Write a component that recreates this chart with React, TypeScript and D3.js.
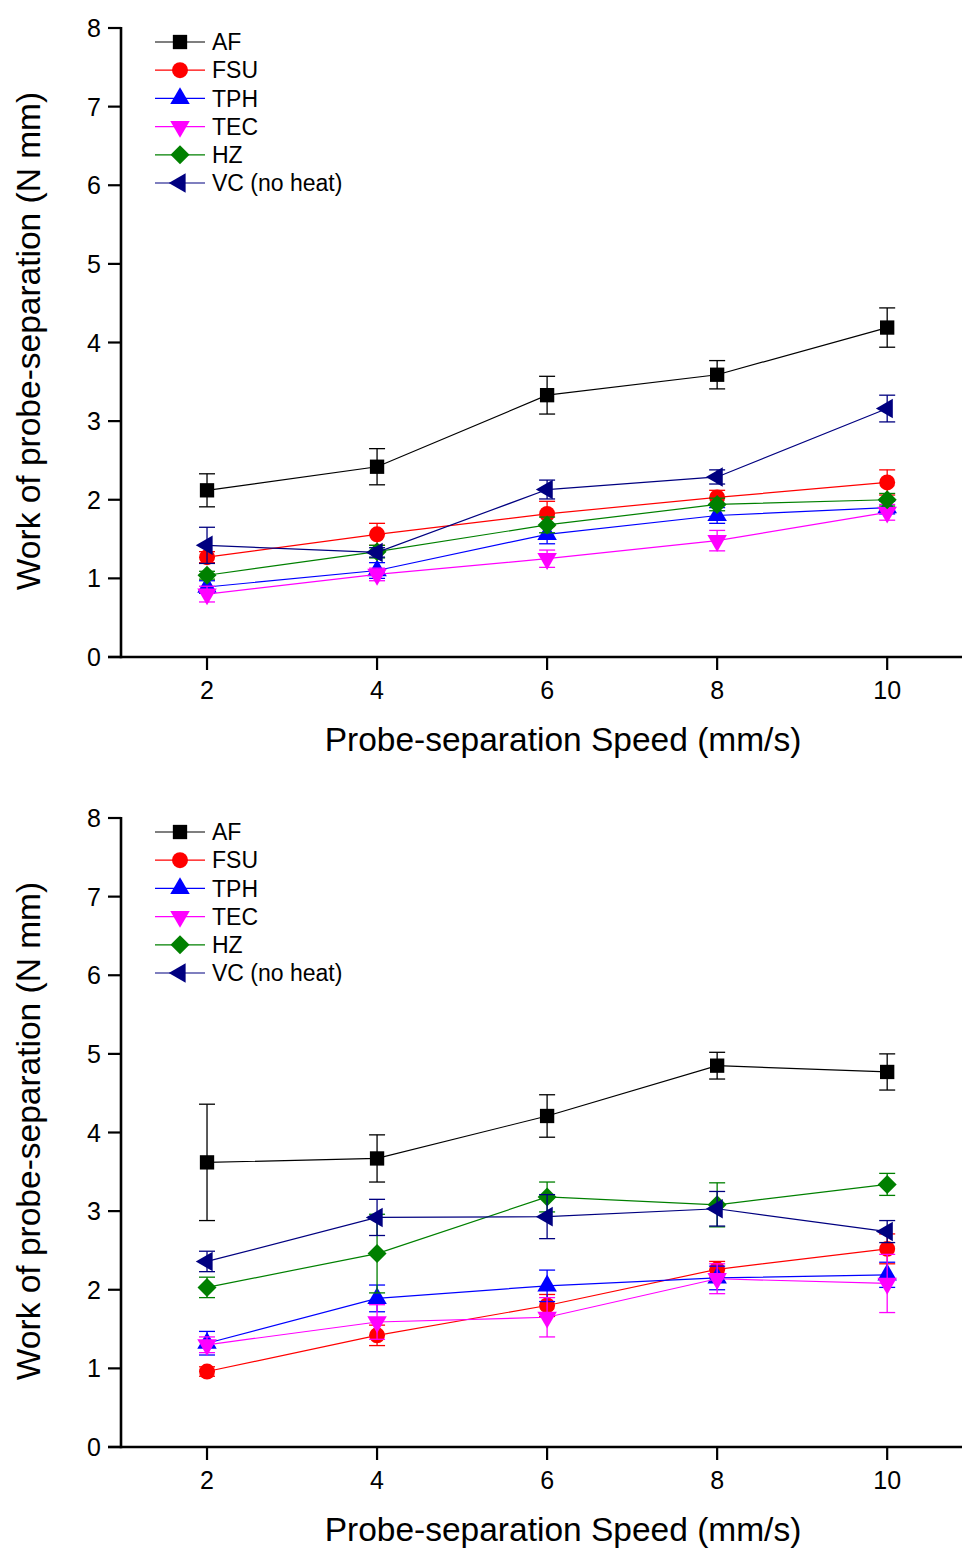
import React from "react";
import * as d3 from "d3";

// ---------- data ----------
const speeds = [2, 4, 6, 8, 10];
const seriesNames = ["AF", "FSU", "TPH", "TEC", "HZ", "VC (no heat)"];
const seriesColors = ["#000000", "#ff0000", "#0000ff", "#ff00ff", "#008000", "#000080"];
const seriesShapes = ["square", "circle", "triangleUp", "triangleDown", "diamond", "triangleLeft"];
const xTicks = [2, 4, 6, 8, 10];
const yTicks = [0, 1, 2, 3, 4, 5, 6, 7, 8];
const xTitle = "Probe-separation Speed (mm/s)";
const yTitle = "Work of probe-separation (N mm)";

// top panel
const topAF = [2.12, 2.42, 3.33, 3.59, 4.19];
const topAFErr = [0.21, 0.23, 0.24, 0.18, 0.25];
const topFSU = [1.27, 1.56, 1.82, 2.03, 2.22];
const topFSUErr = [0.07, 0.14, 0.16, 0.09, 0.16];
const topTPH = [0.89, 1.1, 1.56, 1.8, 1.9];
const topTPHErr = [0.08, 0.1, 0.12, 0.1, 0.08];
const topTEC = [0.8, 1.05, 1.25, 1.48, 1.84];
const topTECErr = [0.1, 0.08, 0.11, 0.13, 0.1];
const topHZ = [1.04, 1.34, 1.68, 1.94, 2.0];
const topHZErr = [0.05, 0.08, 0.1, 0.08, 0.08];
const topVC = [1.42, 1.33, 2.13, 2.29, 3.16];
const topVCErr = [0.23, 0.06, 0.12, 0.09, 0.17];

// bottom panel
const botAF = [3.62, 3.67, 4.21, 4.85, 4.77];
const botAFErr = [0.74, 0.3, 0.27, 0.17, 0.23];
const botFSU = [0.96, 1.42, 1.8, 2.26, 2.52];
const botFSUErr = [0.06, 0.13, 0.14, 0.1, 0.19];
const botTPH = [1.32, 1.89, 2.05, 2.15, 2.19];
const botTPHErr = [0.15, 0.17, 0.2, 0.15, 0.16];
const botTEC = [1.3, 1.59, 1.65, 2.14, 2.08];
const botTECErr = [0.1, 0.22, 0.25, 0.19, 0.37];
const botHZ = [2.03, 2.46, 3.18, 3.08, 3.34];
const botHZErr = [0.13, 0.5, 0.19, 0.28, 0.14];
const botVC = [2.36, 2.92, 2.93, 3.03, 2.74];
const botVCErr = [0.13, 0.23, 0.28, 0.22, 0.14];

const topValues = [topAF, topFSU, topTPH, topTEC, topHZ, topVC];
const topErrors = [topAFErr, topFSUErr, topTPHErr, topTECErr, topHZErr, topVCErr];
const botValues = [botAF, botFSU, botTPH, botTEC, botHZ, botVC];
const botErrors = [botAFErr, botFSUErr, botTPHErr, botTECErr, botHZErr, botVCErr];

const FONT = "'Liberation Sans', Arial, sans-serif";

function markerPath(shape: string): { d: string; rotate: number } {
  const sym = d3.symbol();
  switch (shape) {
    case "square":
      return { d: sym.type(d3.symbolSquare).size(205)() as string, rotate: 0 };
    case "circle":
      return { d: sym.type(d3.symbolCircle).size(200)() as string, rotate: 0 };
    case "triangleUp":
      return { d: sym.type(d3.symbolTriangle).size(165)() as string, rotate: 0 };
    case "triangleDown":
      return { d: sym.type(d3.symbolTriangle).size(165)() as string, rotate: 180 };
    case "triangleLeft":
      return { d: sym.type(d3.symbolTriangle).size(165)() as string, rotate: -90 };
    case "diamond":
      return { d: sym.type(d3.symbolSquare).size(180)() as string, rotate: 45 };
    default:
      return { d: sym.type(d3.symbolCircle).size(150)() as string, rotate: 0 };
  }
}

function Panel({ top, values, errors }: { top: number; values: number[][]; errors: number[][] }) {
  const x = d3.scaleLinear().domain([1, 10.88]).range([122, 962]);
  const y = d3.scaleLinear().domain([0, 8]).range([top + 657, top + 28]);
  const line = d3
    .line<number>()
    .x((_, i) => x(speeds[i]))
    .y((v) => y(v));
  const axisY = y(0);
  return (
    <g>
      {values.map((vals, si) => {
        const color = seriesColors[si];
        const m = markerPath(seriesShapes[si]);
        return (
          <g key={si}>
            <path d={line(vals) as string} fill="none" stroke={color} strokeWidth={1.2} />
            {vals.map((v, i) => {
              const e = errors[si][i];
              const cx = x(speeds[i]);
              return (
                <g key={i} stroke={color} strokeWidth={1.3}>
                  <line x1={cx} x2={cx} y1={y(v + e)} y2={y(v - e)} />
                  <line x1={cx - 8} x2={cx + 8} y1={y(v + e)} y2={y(v + e)} />
                  <line x1={cx - 8} x2={cx + 8} y1={y(v - e)} y2={y(v - e)} />
                </g>
              );
            })}
            {vals.map((v, i) => (
              <path
                key={"m" + i}
                d={m.d}
                fill={color}
                transform={`translate(${x(speeds[i])},${y(v)}) rotate(${m.rotate})`}
              />
            ))}
          </g>
        );
      })}

      <line x1={121} x2={121} y1={y(8) - 1} y2={axisY + 1.2} stroke="#000" strokeWidth={2.6} />
      <line x1={108} x2={962} y1={axisY} y2={axisY} stroke="#000" strokeWidth={2.6} />
      {yTicks.map((t) => (
        <g key={"yt" + t}>
          <line x1={108} x2={121} y1={y(t)} y2={y(t)} stroke="#000" strokeWidth={2.2} />
          <text x={101} y={y(t) + 9} textAnchor="end" fontFamily={FONT} fontSize={25} fill="#000">
            {t}
          </text>
        </g>
      ))}
      {xTicks.map((t) => (
        <g key={"xt" + t}>
          <line x1={x(t)} x2={x(t)} y1={axisY} y2={axisY + 13} stroke="#000" strokeWidth={2.2} />
          <text x={x(t)} y={axisY + 42} textAnchor="middle" fontFamily={FONT} fontSize={25} fill="#000">
            {t}
          </text>
        </g>
      ))}
      <text x={563} y={top + 751} textAnchor="middle" fontFamily={FONT} fontSize={33.5} fill="#000">
        {xTitle}
      </text>
      <text
        transform={`translate(40,${top + 341}) rotate(-90)`}
        textAnchor="middle"
        fontFamily={FONT}
        fontSize={33.5}
        fill="#000"
      >
        {yTitle}
      </text>

      {seriesNames.map((name, si) => {
        const ly = top + 42 + si * 28.2;
        const m = markerPath(seriesShapes[si]);
        return (
          <g key={"lg" + si}>
            <line x1={155} x2={205} y1={ly} y2={ly} stroke={seriesColors[si]} strokeWidth={1.2} />
            <path d={m.d} fill={seriesColors[si]} transform={`translate(180,${ly}) rotate(${m.rotate})`} />
            <text x={212} y={ly + 8.2} fontFamily={FONT} fontSize={23} fill="#000">
              {name}
            </text>
          </g>
        );
      })}
    </g>
  );
}

export default function App() {
  return (
    <svg
      width={962}
      height={1548}
      viewBox="0 0 962 1548"
      style={{ position: "absolute", left: 0, top: 0, background: "#fff" }}
    >
      <rect x={0} y={0} width={962} height={1548} fill="#fff" />
      <Panel top={0} values={topValues} errors={topErrors} />
      <Panel top={790} values={botValues} errors={botErrors} />
    </svg>
  );
}
